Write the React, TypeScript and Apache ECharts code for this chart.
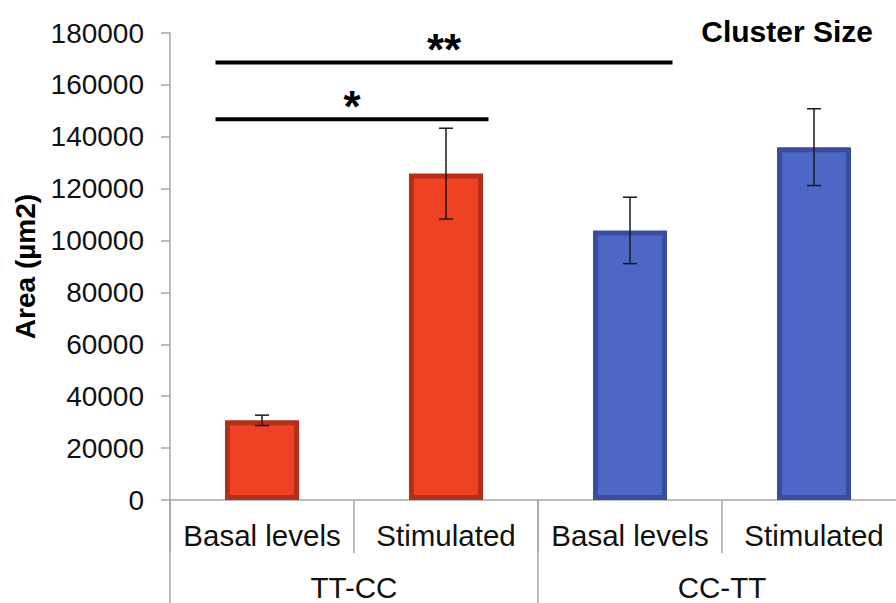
import React, { useEffect, useRef } from "react";
import * as echarts from "echarts";

// Bars, in axis order
const categories = ["Basal levels", "Stimulated", "Basal levels", "Stimulated"];
const groups = ["TT-CC", "CC-TT"];
const groupOfBar = [0, 0, 1, 1];
const meanArea = [30700, 125800, 103900, 136000];
const errArea = [2000, 17500, 12800, 14800];

// Colours per group
const groupFill = ["#EF4123", "#4E67C6"];
const groupEdge = ["#B52E19", "#3A4C9C"];

// Significance brackets: from bar, to bar, height (µm2) and label
const bracketFrom = [0, 0];
const bracketTo = [2, 1];
const bracketLevel = [168600, 146800];
const bracketLabel = ["**", "*"];

const yMin = 0;
const yMax = 180000;
const yStep = 20000;

const FONT = "'Liberation Sans', Arial, sans-serif";
const AXIS_GREY = "#a6a6a6";
const BAR_W = 74;

export default function App() {
  const ref = useRef<HTMLDivElement>(null);

  useEffect(() => {
    if (!ref.current) return;
    const chart = echarts.init(ref.current, undefined, { renderer: "svg" });

    const barData = meanArea.map((v, i) => ({
      value: v,
      itemStyle: {
        color: groupFill[groupOfBar[i]],
        borderColor: groupEdge[groupOfBar[i]],
        borderWidth: 5,
      },
    }));

    const errData = meanArea.map((v, i) => [i, v - errArea[i], v + errArea[i]]);
    const bracketData = bracketLevel.map((v, i) => [bracketFrom[i], bracketTo[i], v]);

    chart.setOption({
      animation: false,
      textStyle: { fontFamily: FONT },
      title: {
        text: "Cluster Size",
        right: 18,
        top: 11,
        textStyle: { fontFamily: FONT, fontSize: 30, fontWeight: "bold", color: "#000" },
      },
      grid: {
        left: 170,
        right: -10,
        top: 33,
        bottom: 103,
        containLabel: false,
        outerBoundsMode: "none",
      },
      xAxis: [
        {
          type: "category",
          data: categories,
          position: "bottom",
          boundaryGap: true,
          axisLine: { show: true, onZero: false, lineStyle: { color: AXIS_GREY, width: 1.5 } },
          axisTick: { show: true, interval: 0, length: 53, lineStyle: { color: AXIS_GREY, width: 1.5 } },
          axisLabel: {
            interval: 0,
            margin: 21,
            fontSize: 29.5,
            lineHeight: 29,
            color: "#111",
            fontFamily: FONT,
          },
        },
        {
          type: "category",
          data: groups,
          position: "bottom",
          boundaryGap: true,
          axisLine: { show: false, onZero: false },
          axisTick: { show: true, interval: 0, length: 103, lineStyle: { color: AXIS_GREY, width: 1.5 } },
          axisLabel: {
            interval: 0,
            margin: 73,
            fontSize: 29.5,
            lineHeight: 29,
            color: "#111",
            fontFamily: FONT,
          },
        },
      ],
      yAxis: {
        type: "value",
        min: yMin,
        max: yMax,
        interval: yStep,
        name: "Area (µm2)",
        nameLocation: "middle",
        nameRotate: 90,
        nameGap: 129,
        nameTextStyle: { fontFamily: FONT, fontSize: 28, fontWeight: "bold", color: "#000" },
        splitLine: { show: false },
        axisLine: { show: true, lineStyle: { color: AXIS_GREY, width: 1.5 } },
        axisTick: { show: true, length: 9, lineStyle: { color: AXIS_GREY, width: 1.5 } },
        axisLabel: {
          margin: 26,
          fontSize: 28,
          color: "#111",
          fontFamily: FONT,
          formatter: (v: number) => String(v),
        },
      },
      series: [
        {
          type: "bar",
          xAxisIndex: 0,
          barWidth: BAR_W,
          data: barData,
          z: 2,
        },
        {
          type: "custom",
          xAxisIndex: 0,
          z: 3,
          data: errData,
          renderItem: (params: any, api: any) => {
            const x = api.value(0);
            const lo = api.coord([x, api.value(1)]);
            const hi = api.coord([x, api.value(2)]);
            const cap = 7;
            const style = { stroke: "#1a1a1a", lineWidth: 1.5 };
            return {
              type: "group",
              children: [
                { type: "line", shape: { x1: hi[0], y1: hi[1], x2: lo[0], y2: lo[1] }, style },
                { type: "line", shape: { x1: hi[0] - cap, y1: hi[1], x2: hi[0] + cap, y2: hi[1] }, style },
                { type: "line", shape: { x1: lo[0] - cap, y1: lo[1], x2: lo[0] + cap, y2: lo[1] }, style },
              ],
            };
          },
        },
        {
          type: "custom",
          xAxisIndex: 0,
          z: 4,
          data: bracketData,
          renderItem: (params: any, api: any) => {
            const a = api.coord([api.value(0), api.value(2)]);
            const b = api.coord([api.value(1), api.value(2)]);
            const x1 = a[0] - BAR_W / 2 - 9.5;
            const x2 = b[0] + BAR_W / 2 + 5.5;
            const label = bracketLabel[params.dataIndex];
            return {
              type: "group",
              children: [
                {
                  type: "line",
                  shape: { x1, y1: a[1], x2, y2: a[1] },
                  style: { stroke: "#000", lineWidth: 4 },
                },
                {
                  type: "text",
                  style: {
                    text: label,
                    x: (x1 + x2) / 2,
                    y: a[1] - 13,
                    align: "center",
                    verticalAlign: "middle",
                    textAlign: "center",
                    textVerticalAlign: "middle",
                    font: `bold 44px ${FONT}`,
                    fill: "#000",
                  },
                },
              ],
            };
          },
        },
      ],
    });

    return () => chart.dispose();
  }, []);

  return (
    <div
      ref={ref}
      style={{ position: "fixed", left: 0, top: 0, width: 896, height: 603, background: "#fff" }}
    />
  );
}
